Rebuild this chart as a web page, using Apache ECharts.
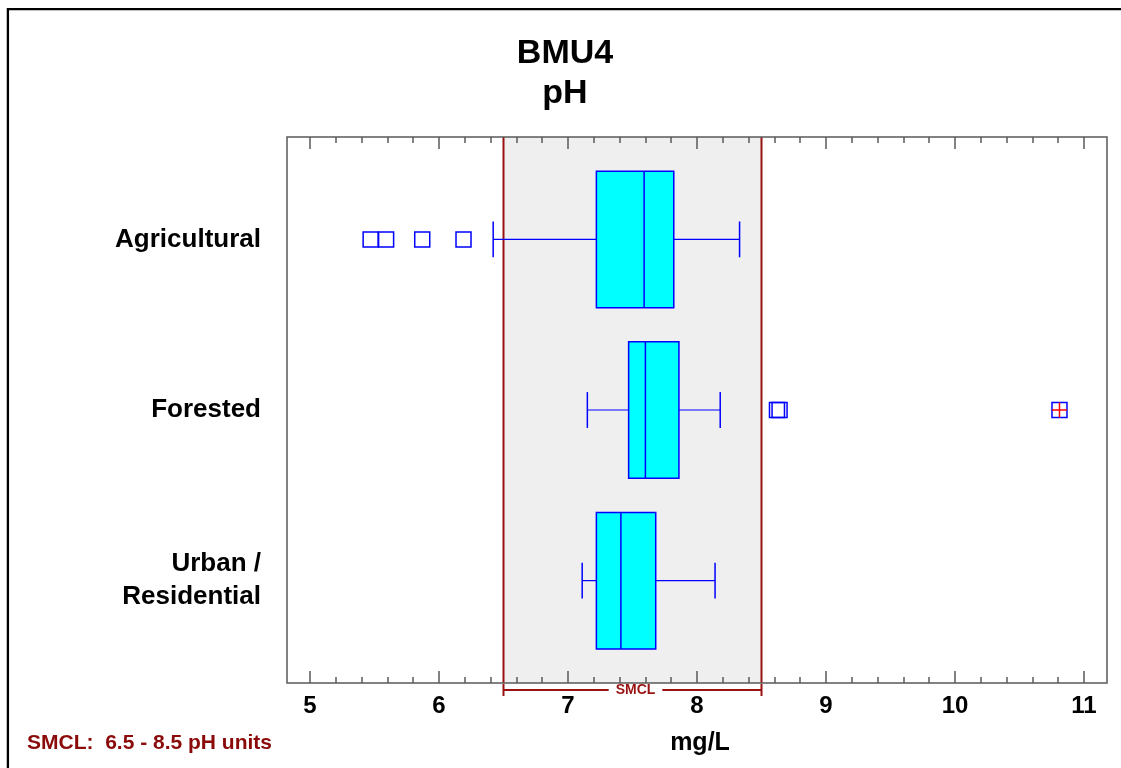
<!DOCTYPE html>
<html>
<head>
<meta charset="utf-8">
<title>BMU4 pH</title>
<script src="https://cdn.jsdelivr.net/npm/echarts@6/dist/echarts.min.js"></script>
<style>
  html, body { margin: 0; padding: 0; background: #fff; }
  #chart { width: 1121px; height: 768px; }
</style>
</head>
<body>
<div id="chart"></div>
<script>
// Land-use groups, listed top to bottom
const categories = ['Agricultural', 'Forested', 'Urban /\nResidential'];
// Row positions of the groups on the vertical scale (top row highest)
const rowPos = [3, 2, 1];

// Five-number summaries of pH for each group
const lowerWhisker = [6.42, 7.15, 7.11];
const q1 = [7.22, 7.47, 7.22];
const median = [7.59, 7.60, 7.41];
const q3 = [7.82, 7.86, 7.68];
const upperWhisker = [8.33, 8.18, 8.14];

// Outliers per group, and far outliers (drawn with a cross)
const outliers = [[5.47, 5.59, 5.87, 6.19], [8.62, 8.64], []];
const farOutliers = [[], [10.81], []];

// Secondary maximum contaminant level range
const smclRange = [6.5, 8.5];

// Horizontal axis range and tick step
const xMin = 5, xMax = 11, xStep = 1;
// Vertical extent around the rows
const yMin = 0.4, yMax = 3.6;

const FONT = '"Liberation Sans", Arial, sans-serif';
const BOX_BLUE = '#0000ff';
const BOX_FILL = '#00ffff';
const SMCL_RED = '#9a1111';
const FRAME = '#5a5a5a';
const BOX_HEIGHT = 0.8;   // in row units
const CAP_HEIGHT = 0.21;  // in row units

const boxData = categories.map((c, i) =>
  [rowPos[i], lowerWhisker[i], q1[i], median[i], q3[i], upperWhisker[i]]);
const outlierData = outliers.flatMap((vals, i) => vals.map(v => [v, rowPos[i]]));
const farData = farOutliers.flatMap((vals, i) => vals.map(v => [v, rowPos[i]]));

function seg(x1, y1, x2, y2, color, w) {
  return { type: 'line', shape: { x1, y1, x2, y2 }, style: { stroke: color, lineWidth: w } };
}

function renderBox(params, api) {
  const y = api.value(0);
  const pLo = api.coord([api.value(1), y]);
  const pQ1 = api.coord([api.value(2), y]);
  const pMed = api.coord([api.value(3), y]);
  const pQ3 = api.coord([api.value(4), y]);
  const pHi = api.coord([api.value(5), y]);
  const half = api.size([0, BOX_HEIGHT])[1] / 2;
  const cap = api.size([0, CAP_HEIGHT])[1] / 2;
  const cy = pMed[1];
  return {
    type: 'group',
    children: [
      seg(pLo[0], cy, pQ1[0], cy, BOX_BLUE, 1.2),
      seg(pQ3[0], cy, pHi[0], cy, BOX_BLUE, 1.2),
      seg(pLo[0], cy - cap, pLo[0], cy + cap, BOX_BLUE, 1.5),
      seg(pHi[0], cy - cap, pHi[0], cy + cap, BOX_BLUE, 1.5),
      {
        type: 'rect',
        shape: { x: pQ1[0], y: cy - half, width: pQ3[0] - pQ1[0], height: 2 * half },
        style: { fill: BOX_FILL, stroke: BOX_BLUE, lineWidth: 1.5 }
      },
      seg(pMed[0], cy - half, pMed[0], cy + half, BOX_BLUE, 1.5)
    ]
  };
}

function renderSmcl(params, api) {
  const lo = api.value(0), hi = api.value(1);
  const tl = api.coord([lo, yMax]);
  const br = api.coord([hi, yMin]);
  const by = br[1] + 7;          // bracket sits just under the axis
  const cx = (tl[0] + br[0]) / 2;
  return {
    type: 'group',
    children: [
      {
        type: 'rect',
        shape: { x: tl[0], y: tl[1], width: br[0] - tl[0], height: br[1] - tl[1] },
        style: { fill: '#efefef' }
      },
      seg(tl[0], tl[1], tl[0], br[1], SMCL_RED, 2),
      seg(br[0], tl[1], br[0], br[1], SMCL_RED, 2),
      seg(tl[0], by, br[0], by, SMCL_RED, 2),
      seg(tl[0], by - 6, tl[0], by + 6, SMCL_RED, 2),
      seg(br[0], by - 6, br[0], by + 6, SMCL_RED, 2),
      {
        type: 'text',
        x: cx + 3, y: by,
        style: {
          text: 'SMCL', font: 'bold 14px ' + FONT, fill: SMCL_RED,
          align: 'center', verticalAlign: 'middle',
          backgroundColor: '#fff', padding: [0, 7]
        }
      }
    ]
  };
}

const tickStyle = { color: FRAME, width: 1.5 };

const option = {
  backgroundColor: '#fff',
  animation: false,
  textStyle: { fontFamily: FONT },
  grid: [
    // plot frame
    { left: 287, right: 14, top: 137, bottom: 85, show: true, borderColor: FRAME, borderWidth: 1.5,
      backgroundColor: 'transparent', z: 3 },
    // data area
    { left: 310, right: 37, top: 137, bottom: 85 }
  ],
  xAxis: [
    { gridIndex: 0, type: 'value', show: false },
    {
      gridIndex: 1, type: 'value', position: 'bottom', min: xMin, max: xMax, interval: xStep, z: 3,
      axisLine: { show: false },
      axisTick: { show: true, inside: true, length: 12, lineStyle: tickStyle },
      minorTick: { show: true, splitNumber: 5, length: 6, lineStyle: tickStyle },
      splitLine: { show: false },
      axisLabel: { margin: 11, color: '#000', fontSize: 24, fontWeight: 'bold', fontFamily: FONT },
      name: 'mg/L', nameLocation: 'middle', nameGap: 48,
      nameTextStyle: { color: '#000', fontSize: 25, fontWeight: 'bold', fontFamily: FONT, padding: [0, 0, 0, 6] }
    },
    {
      gridIndex: 1, type: 'value', position: 'top', min: xMin, max: xMax, interval: xStep, z: 3,
      axisLine: { show: false },
      axisTick: { show: true, inside: true, length: 12, lineStyle: tickStyle },
      minorTick: { show: true, splitNumber: 5, length: 6, lineStyle: tickStyle },
      splitLine: { show: false },
      axisLabel: { show: false }
    }
  ],
  yAxis: [
    { gridIndex: 0, type: 'value', show: false },
    {
      gridIndex: 1, type: 'value', min: yMin, max: yMax, z: 3,
      axisLine: { show: false },
      axisTick: { show: false },
      splitLine: { show: false },
      axisLabel: {
        customValues: rowPos,
        formatter: v => categories[rowPos.indexOf(v)],
        margin: 49, color: '#000', fontSize: 26, fontWeight: 'bold', lineHeight: 33,
        padding: [3, 0, 0, 0], fontFamily: FONT
      }
    }
  ],
  series: [
    {
      name: 'SMCL', type: 'custom', xAxisIndex: 1, yAxisIndex: 1, z: 1, clip: false, silent: true,
      renderItem: renderSmcl, encode: { x: [0, 1] },
      data: [smclRange]
    },
    {
      name: 'pH', type: 'custom', xAxisIndex: 1, yAxisIndex: 1, z: 4, silent: true,
      renderItem: renderBox, encode: { x: [1, 2, 3, 4, 5], y: 0 },
      data: boxData
    },
    {
      name: 'Outliers', type: 'scatter', xAxisIndex: 1, yAxisIndex: 1, z: 5, silent: true,
      symbol: 'rect', symbolSize: 15,
      itemStyle: { color: 'rgba(0,0,0,0)', borderColor: BOX_BLUE, borderWidth: 1.5, opacity: 1 },
      data: outlierData.concat(farData)
    },
    {
      name: 'Far outliers', type: 'scatter', xAxisIndex: 1, yAxisIndex: 1, z: 6, silent: true,
      symbol: 'path://M0,5L10,5M5,0L5,10', symbolSize: 15,
      itemStyle: { color: 'none', borderColor: '#ff0000', borderWidth: 1.5, opacity: 1 },
      data: farData
    }
  ],
  graphic: [
    {
      type: 'rect', z: 100, silent: true,
      shape: { x: 7.9, y: 9.2, width: 1300, height: 900 },
      style: { fill: 'none', stroke: '#000', lineWidth: 2.3 }
    },
    {
      type: 'text', z: 100, x: 565, y: 34, silent: true,
      style: { text: 'BMU4\npH', font: 'bold 34px ' + FONT, fill: '#000',
        align: 'center', verticalAlign: 'top', lineHeight: 40 }
    },
    {
      type: 'text', z: 100, x: 27, y: 733, silent: true,
      style: { text: 'SMCL:  6.5 - 8.5 pH units', font: 'bold 21px ' + FONT, fill: '#8b0a0a',
        align: 'left', verticalAlign: 'top' }
    }
  ]
};

const chart = echarts.init(document.getElementById('chart'), null, { renderer: 'canvas' });
chart.setOption(option);
</script>
</body>
</html>
